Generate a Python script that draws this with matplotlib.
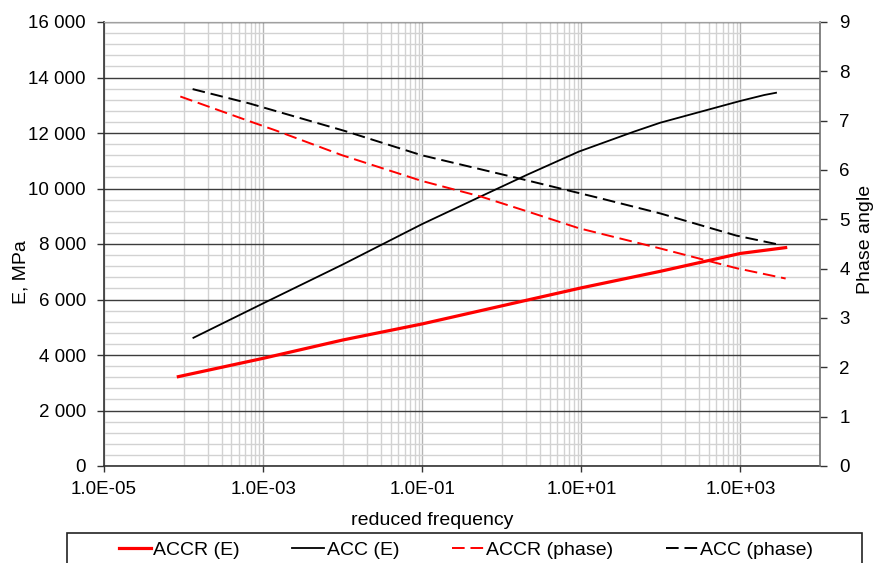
import numpy as np
import matplotlib.pyplot as plt
from matplotlib.patches import Rectangle
from matplotlib.ticker import FixedLocator, FuncFormatter, NullFormatter

plt.rcParams['font.family'] = ['Liberation Sans', 'DejaVu Sans']

# modulus master curves (reduced frequency, E in MPa)
accr_e_freq = [8.6e-5, 1e-3, 1e-2, 1e-1, 2.1, 10, 100, 1000, 3.7e3]
accr_e_vals = [3220, 3880, 4540, 5120, 5980, 6420, 7020, 7660, 7870]

acc_e_freq = [1.33e-4, 1e-3, 1e-2, 1e-1, 0.55, 2.1, 9.3, 46, 98, 980, 2.0e3, 2.8e3]
acc_e_vals = [4620, 5860, 7260, 8720, 9720, 10500, 11330, 12050, 12370, 13150, 13370, 13450]

# phase angle master curves
accr_ph_freq = [9.1e-5, 6.7e-4, 1.45e-3, 9.8e-3, 9.8e-2, 0.55, 2.1, 9.3, 98, 890, 3.7e3]
accr_ph_vals = [7.49, 6.99, 6.80, 6.30, 5.78, 5.46, 5.16, 4.82, 4.41, 4.01, 3.80]

acc_ph_freq = [1.3e-4, 6.7e-4, 1.07e-2, 9.8e-2, 1.74, 17, 98, 890, 2.8e3]
acc_ph_vals = [7.64, 7.35, 6.79, 6.30, 5.82, 5.43, 5.12, 4.67, 4.50]

x_major = [1e-5, 1e-3, 1e-1, 1e1, 1e3]
x_labels = ['1.0E-05', '1.0E-03', '1.0E-01', '1.0E+01', '1.0E+03']

FS = 13.5
LFS = 14
fig = plt.figure(figsize=(8.74, 5.63), dpi=100)
ax = fig.add_axes([104 / 874, 1 - 466 / 563, 716 / 874, 444 / 563])
ax2 = ax.twinx()

ax.set_xscale('log')
ax.set_xlim(1e-5, 1e4)
ax.set_ylim(0, 16000)
ax2.set_ylim(0, 9)

# excel style base-100 log grid: minor lines k*10^n inside each two-decade step
minor_x = [k * 10.0 ** e for e in (-4, -2, 0, 2) for k in range(1, 10)]
ax.xaxis.set_major_locator(FixedLocator(x_major))
ax.xaxis.set_minor_locator(FixedLocator(minor_x))
ax.xaxis.set_minor_formatter(NullFormatter())
ax.set_xticklabels(x_labels)
ax.yaxis.set_major_locator(FixedLocator(np.arange(0, 16001, 2000)))
ax.yaxis.set_minor_locator(FixedLocator(np.arange(0, 16001, 400)))
ax.yaxis.set_major_formatter(FuncFormatter(lambda v, p: f"{int(v):,}".replace(',', ' ')))
ax2.yaxis.set_major_locator(FixedLocator(range(0, 10)))

ax.set_axisbelow(True)
ax.grid(which='minor', axis='both', color='#d2d2d2', lw=1.0)
ax.grid(which='major', axis='x', color='#b4b4b4', lw=1.0)
ax.grid(which='major', axis='y', color='#3c3c3c', lw=1.0)

ax.tick_params(axis='x', which='major', direction='out', length=4, width=1, pad=7,
               labelsize=FS, colors='#333333', labelcolor='black')
ax.tick_params(axis='x', which='minor', length=0)
ax.tick_params(axis='y', which='major', direction='out', length=5, width=1, pad=8,
               labelsize=FS, colors='#333333', labelcolor='black')
ax.tick_params(axis='y', which='minor', length=0)
ax2.tick_params(axis='y', direction='out', length=5, width=1, pad=9,
                labelsize=FS, colors='#333333', labelcolor='black')

for s in ('left', 'bottom'):
    ax.spines[s].set_color('#333333')
    ax.spines[s].set_linewidth(1.2)
ax.spines['top'].set_color('#a0a0a0')
ax.spines['right'].set_visible(False)
for s in ('left', 'bottom'):
    ax2.spines[s].set_visible(False)
ax2.spines['top'].set_color('#a0a0a0')
ax2.spines['right'].set_color('#707070')
ax2.spines['right'].set_linewidth(1.2)

l1, = ax.plot(accr_e_freq, accr_e_vals, color='#ff0000', lw=2.3, label='ACCR (E)')
l2, = ax.plot(acc_e_freq, acc_e_vals, color='black', lw=1.3, label='ACC (E)')
l3, = ax2.plot(accr_ph_freq, accr_ph_vals, color='#ff0000', lw=1.4,
               dashes=(6.5, 3), label='ACCR (phase)')
l4, = ax2.plot(acc_ph_freq, acc_ph_vals, color='black', lw=1.4,
               dashes=(6.5, 3), label='ACC (phase)')

ax.set_xlabel('reduced frequency', fontsize=LFS)
ax.xaxis.set_label_coords(0.458, -0.104)
ax.set_ylabel('E, MPa', fontsize=LFS)
ax.yaxis.set_label_coords(-0.104, 0.437)
ax2.set_ylabel('Phase angle', fontsize=LFS)
ax2.yaxis.set_label_coords(1.051, 0.51)

# legend box runs off the bottom edge of the figure
fig.patches.append(Rectangle((67 / 874, -0.05), 795 / 874, 0.05 + 30 / 563,
                             transform=fig.transFigure, fill=False,
                             edgecolor='#222222', lw=1.2))
leg = fig.legend(handles=[l1, l2, l3, l4], loc='center', ncol=4,
                 bbox_to_anchor=(466 / 874, 1 - 550 / 563),
                 fontsize=LFS, frameon=False, handlelength=1.65,
                 handletextpad=0.12, columnspacing=2.7, borderpad=0)

fig.savefig('out.png', dpi=100)
